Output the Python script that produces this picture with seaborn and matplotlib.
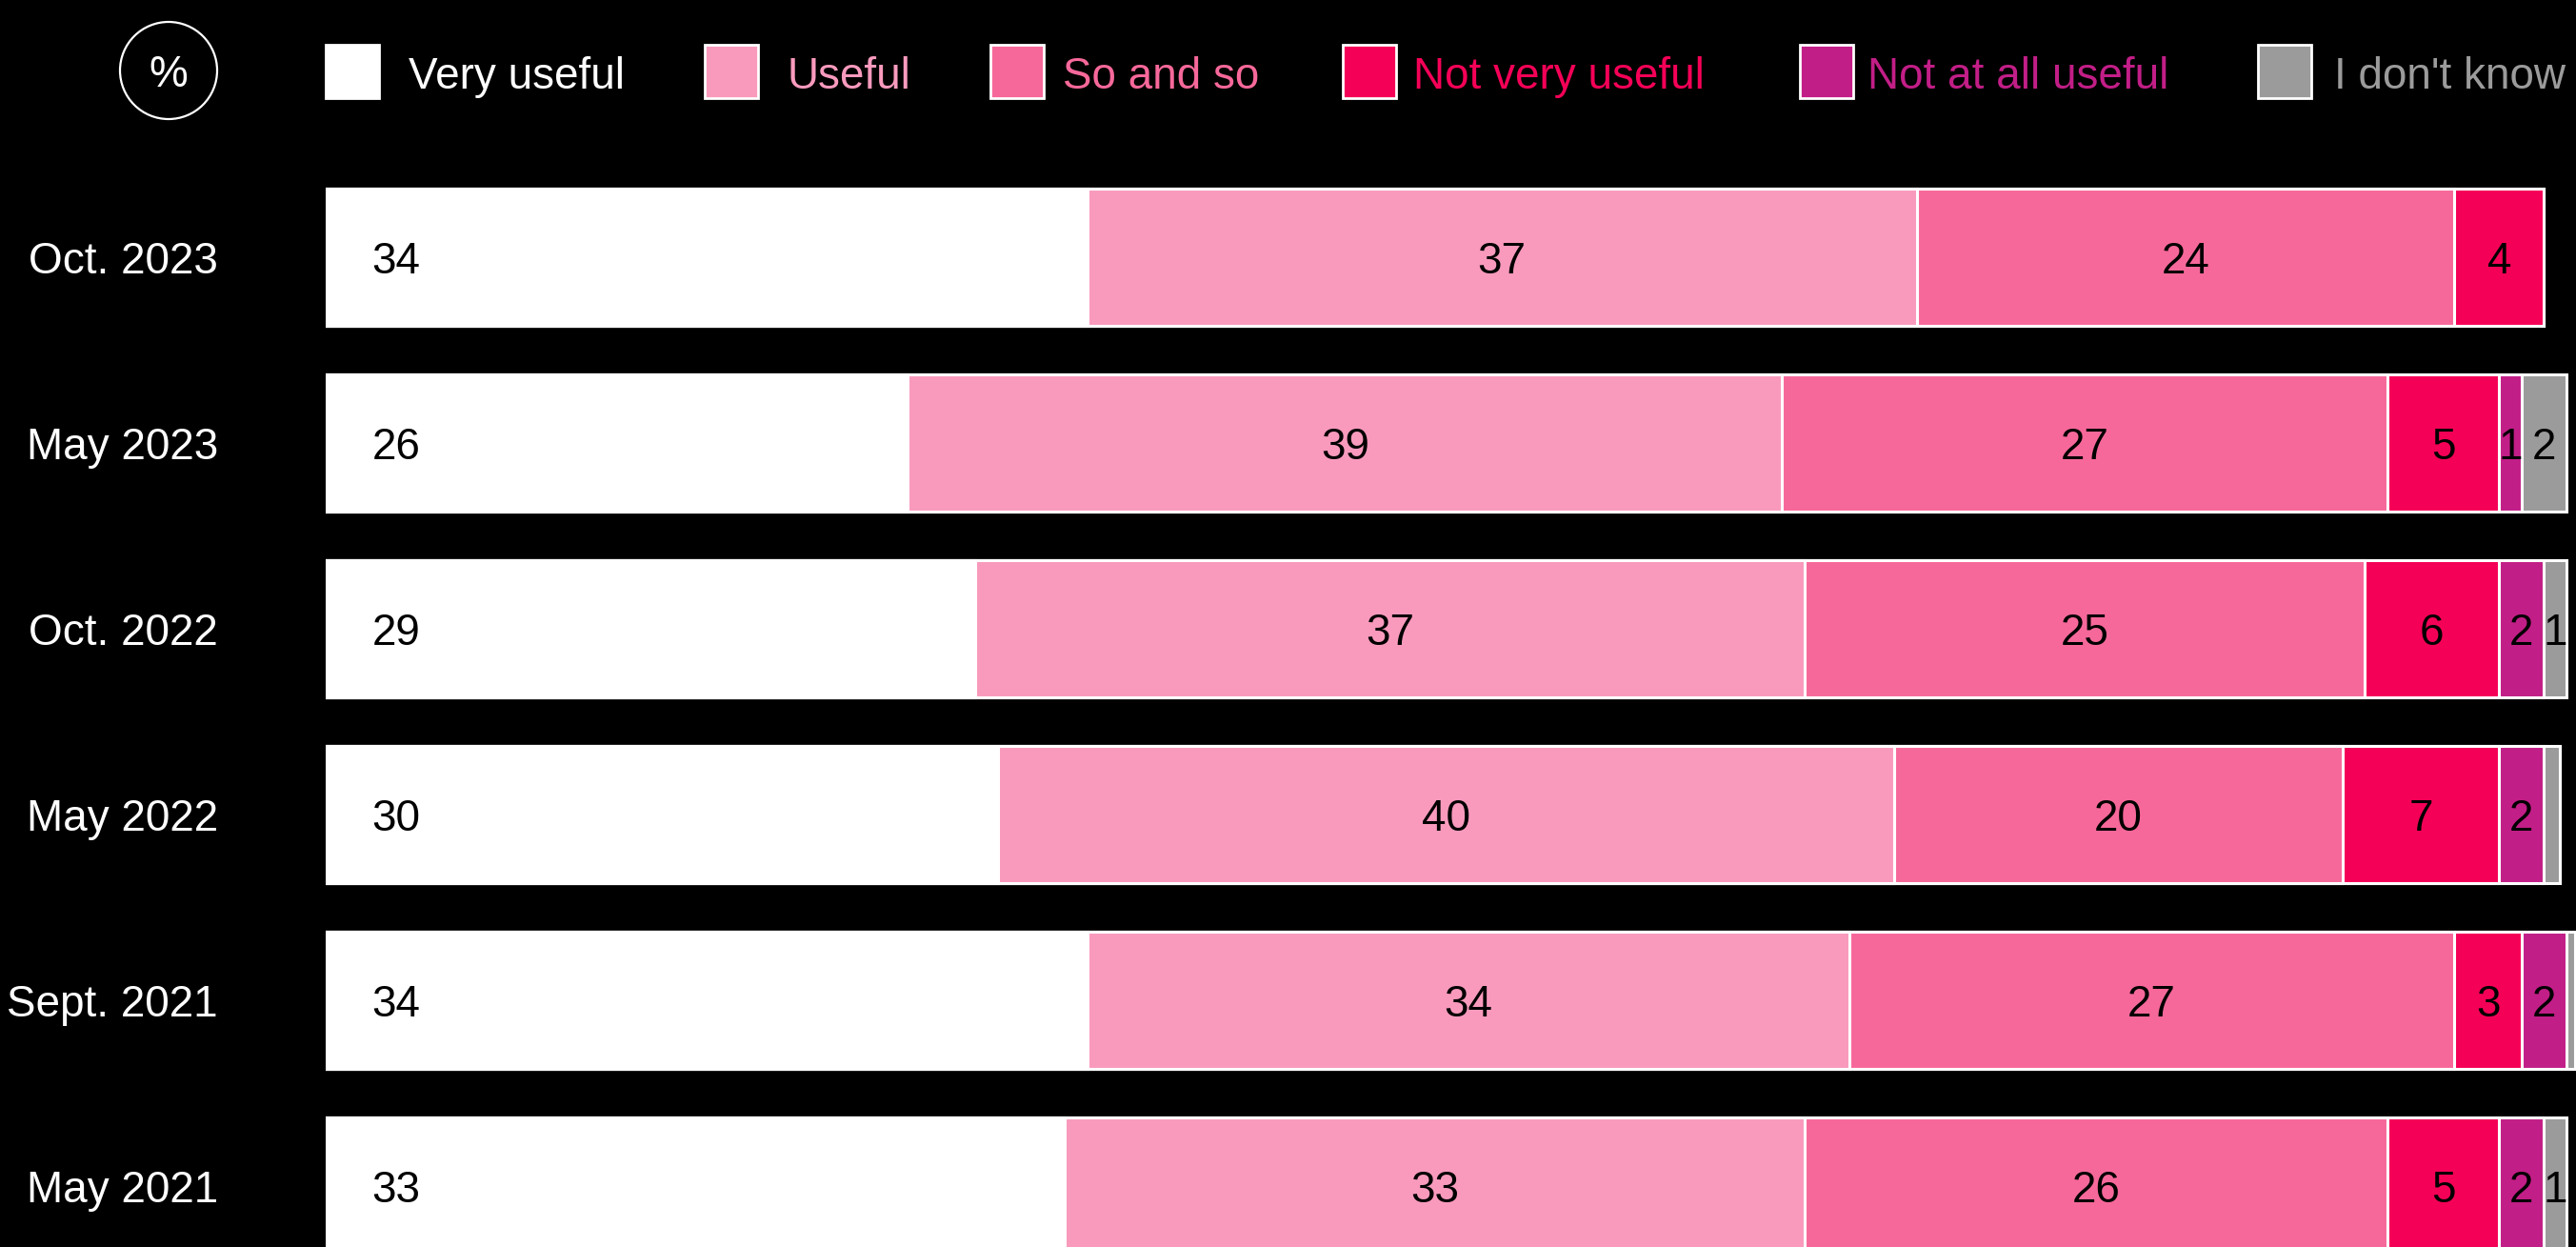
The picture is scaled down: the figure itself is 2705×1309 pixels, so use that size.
import matplotlib
matplotlib.use("Agg")
import matplotlib.pyplot as plt
from matplotlib.patches import Rectangle, Circle
from matplotlib.transforms import Affine2D
import numpy as np
import pandas as pd
import seaborn as sns

# Survey waves (top to bottom) and share of answers per category, in %
periods = ["Oct. 2023", "May 2023", "Oct. 2022", "May 2022", "Sept. 2021", "May 2021"]
very_useful = [34, 26, 29, 30, 34, 33]
useful = [37, 39, 37, 40, 34, 33]
so_and_so = [24, 27, 25, 20, 27, 26]
not_very_useful = [4, 5, 6, 7, 3, 5]
not_at_all_useful = [0, 1, 2, 2, 2, 2]
dont_know = [0, 2, 1, 0.7, 0.4, 1]

categories = ["Very useful", "Useful", "So and so", "Not very useful",
              "Not at all useful", "I don't know"]
colors = ["#FFFFFF", "#F99ABD", "#F7689A", "#F50057", "#C21E87", "#9B9B9B"]

df = pd.DataFrame({
    "period": periods,
    "Very useful": very_useful,
    "Useful": useful,
    "So and so": so_and_so,
    "Not very useful": not_very_useful,
    "Not at all useful": not_at_all_useful,
    "I don't know": dont_know,
})
cum = df[categories].cumsum(axis=1)
starts = cum - df[categories]

W, H = 2705, 1309
sns.set_style("dark")
plt.rcParams["font.family"] = ["Liberation Sans", "DejaVu Sans"]

fig = plt.figure(figsize=(W / 100, H / 100), dpi=100, facecolor="black")
px_per_pct = 23.534
x_max = 100.45
ax = fig.add_axes([341.6 / W, 0, x_max * px_per_pct / W, 1])
ax.set_facecolor("none")

# Stacked bars: draw cumulative totals from the outermost segment inward
for cat, col in reversed(list(zip(categories, colors))):
    sns.barplot(x=cum[cat], y=df["period"], orient="h", color=col,
                saturation=1, width=0.738, edgecolor="white",
                linewidth=2.2, errorbar=None, ax=ax)

ax.set_xlim(0, x_max)
ax.set_ylim((H - 270) / 195, -270 / 195)
for s in ax.spines.values():
    s.set_visible(False)
ax.set_xticks([])
ax.set_yticks([])
ax.set_xlabel("")
ax.set_ylabel("")

fs = 33
base_off = 0.086
# Segment value labels
for i in range(len(periods)):
    for j, cat in enumerate(categories):
        v = df.loc[i, cat]
        if v < 1:
            continue
        st = starts.loc[i, cat]
        if j == 0:
            ax.text(st + 2.07, i + base_off, f"{v:g}", ha="left", va="baseline",
                    fontsize=fs, color="black")
        else:
            ax.text(st + v / 2, i + base_off, f"{v:g}", ha="center", va="baseline",
                    fontsize=fs, color="black")
    # period labels to the left of the bars
    ax.text(-4.79, i + base_off, periods[i], ha="right", va="baseline",
            fontsize=fs, color="white", clip_on=False)

# Legend row, laid out in figure pixels (origin top-left)
pix = Affine2D().scale(1 / W, -1 / H).translate(0, 1) + fig.transFigure
fig.add_artist(Circle((177, 74), 51, transform=pix, facecolor="none",
                      edgecolor="white", linewidth=1.6))
fig.text(177, 91, "%", transform=pix, ha="center", va="baseline",
         fontsize=fs, color="white")

legend_pos = [(342, 429), (740, 826), (1040, 1116), (1410, 1484),
              (1890, 1961), (2371, 2451)]
for (sx, tx), cat, col in zip(legend_pos, categories, colors):
    fig.add_artist(Rectangle((sx, 47), 56, 56, transform=pix, facecolor=col,
                             edgecolor="white", linewidth=2))
    fig.text(tx, 93, cat, transform=pix, ha="left", va="baseline",
             fontsize=fs, color=col)

fig.savefig("out.png", dpi=100, facecolor="black")
